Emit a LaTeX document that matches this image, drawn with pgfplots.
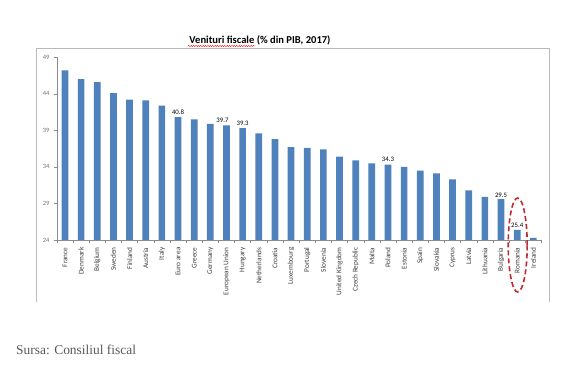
\documentclass[border=0pt]{standalone}
\usepackage{pgfplots}
\pgfplotsset{compat=1.18}
\usepackage{fontspec}
\setmainfont{Carlito}
\newfontfamily\serifsrc{Liberation Serif}
\usetikzlibrary{decorations.pathmorphing}
\definecolor{barblue}{HTML}{4F81BD}
\definecolor{ellred}{HTML}{C0282D}
\begin{document}
\begin{tikzpicture}
\useasboundingbox (0,0) rectangle (585bp,371bp);
\fill[white] (0,0) rectangle (585bp,371bp);
\begin{scope}[x=1bp,y=1bp]
\draw[gray!55, line width=0.8bp] (36,69) -- (36,323) -- (549,323) -- (549,69);
\node[font=\bfseries\fontsize{10.6}{12}\selectfont, anchor=base] at (260,327.5) {Venituri fiscale (\% din PIB, 2017)};
\draw[red, line width=0.4bp, decorate, decoration={snake, amplitude=0.6bp, segment length=2.4bp}] (188,325)--(255,325);
\node[font=\serifsrc\fontsize{13.5}{15}\selectfont, text=black!65, anchor=west, inner sep=0] at (16,21) {Sursa: Consiliul fiscal};
\end{scope}
\begin{axis}[
 at={(56.9bp,131bp)}, anchor=south west,
 scale only axis, width=484.5bp, height=182.7bp,
 xmin=-0.5, xmax=29.5, ymin=24, ymax=49,
 axis x line*=bottom, axis y line*=left,
 axis line style={black!45, line width=0.6bp},
 ytick={24,29,34,39,44,49},
 xtick={0,...,29},
 xticklabels={France,Denmark,Belgium,Sweden,Finland,Austria,Italy,Euro area,Greece,Germany,European Union,Hungary,Netherlands,Croatia,Luxembourg,Portugal,Slovenia,United Kingdom,Czech Republic,Malta,Poland,Estonia,Spain,Slovakia,Cyprus,Latvia,Lithuania,Bulgaria,Romania,Ireland},
 major x tick style={draw=none},
 minor xtick={-0.5,0.5,...,29.5},
 minor x tick style={black!45, line width=0.5bp},
 y tick style={black!45, line width=0.5bp},
 tick align=outside, major tick length=3bp, minor tick length=3bp,
 /pgf/number format/assume math mode=true,
 yticklabel style={font=\fontsize{6.5}{7}\selectfont, text=black!55, xshift=-1bp},
 xticklabel style={rotate=90, anchor=east, font=\fontsize{7.3}{8}\selectfont, text=black!75, xshift=-1bp},
]
\addplot[ybar, bar width=6.7bp, fill=barblue, draw=none] coordinates {
(0,47.2) (1,46.0) (2,45.6) (3,44.1) (4,43.2) (5,43.1) (6,42.4) (7,40.8) (8,40.5) (9,39.9)
(10,39.7) (11,39.3) (12,38.6) (13,37.8) (14,36.7) (15,36.6) (16,36.4) (17,35.4) (18,34.9) (19,34.5)
(20,34.3) (21,34.0) (22,33.5) (23,33.1) (24,32.3) (25,30.8) (26,29.9) (27,29.6) (28,25.4) (29,24.3)};
\addplot[draw=none, mark=none, nodes near coords={\pgfmathprintnumber[fixed,precision=1,fixed zerofill]{\pgfplotspointmeta}},
 point meta=y,
 every node near coord/.style={font=\fontsize{6.8}{7}\selectfont, text=black, anchor=south, inner sep=2.5bp}] coordinates {
(7,40.8) (9.75,39.7) (11,39.3) (20,34.3) (27,29.5) (28,25.4)};
\end{axis}
\begin{scope}[x=1bp,y=1bp]
\draw[ellred, line width=1.6bp, dash pattern=on 5bp off 3bp] (517.7,126) ellipse [x radius=9.5, y radius=47];
\end{scope}
\end{tikzpicture}
\end{document}
